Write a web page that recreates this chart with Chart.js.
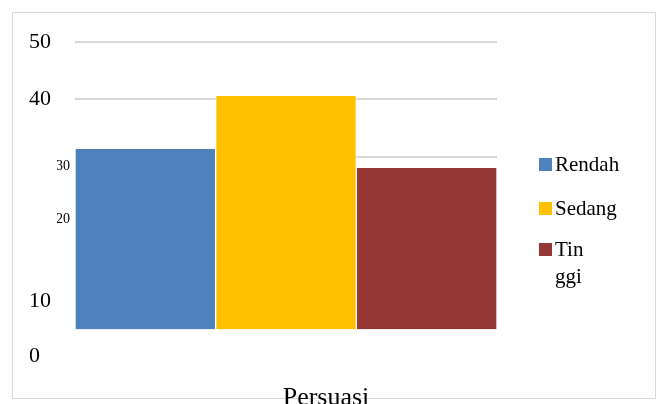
<!DOCTYPE html>
<html>
<head>
<meta charset="utf-8">
<script src="https://cdn.jsdelivr.net/npm/chart.js@4/dist/chart.umd.min.js"></script>
<style>
  html, body { margin: 0; padding: 0; background: #fff; }
  #wrap { width: 659px; height: 404px; }
</style>
</head>
<body>
<div id="wrap"><canvas id="persuasiChart" width="659" height="404"></canvas></div>
<script>
const categories = ['Persuasi'];
const seriesNames = ['Rendah', 'Sedang', 'Tinggi'];
const rendah = [31.5];
const sedang = [40.7];
const tinggi = [28.2];
const tickLabels = ['50', '40', '30', '20', '10', '0'];
const gridValues = [10, 20, 30, 40, 50];

const colors = ['#4f81bd', '#ffc000', '#953735'];
const serif = 'Liberation Serif';

// frame around the whole picture
const framePlugin = {
    id: 'frame',
    beforeDraw(chart) {
        const c = chart.ctx;
        c.save();
        c.fillStyle = '#fff';
        c.fillRect(0, 0, chart.width, chart.height);
        c.strokeStyle = '#d9d9d9';
        c.lineWidth = 1;
        c.strokeRect(12.5, 12.5, 643, 386);
        c.restore();
    }
};

// legend on the right, the last label breaks onto two lines like the original
const sideLegend = {
    id: 'sideLegend',
    afterDraw(chart) {
        const c = chart.ctx;
        const rows = [['Rendah'], ['Sedang'], ['Tin', 'ggi']];
        const rowY = [164, 208, 249];
        c.save();
        c.font = '21px "' + serif + '"';
        c.textBaseline = 'middle';
        chart.data.datasets.forEach((ds, i) => {
            c.fillStyle = ds.backgroundColor;
            c.fillRect(539, rowY[i] - 6, 13, 13);
            c.fillStyle = '#000';
            rows[i].forEach((line, j) => c.fillText(line, 555, rowY[i] + 1 + j * 27));
        });
        c.restore();
    }
};

const chartData = {
    labels: categories,
    datasets: [rendah, sedang, tinggi].map((values, i) => ({
        label: seriesNames[i],
        data: values,
        backgroundColor: colors[i],
        borderColor: '#ffffff',
        borderWidth: 1,
        categoryPercentage: 1,
        barPercentage: 1
    }))
};

// where the (misplaced) tick labels sit in the original picture
const labelAt = [50, 40, 28.3, 19.2, 4.8, -4.7];
const bigIdx = [0, 1, 4, 5];   // large labels, left aligned at the frame side
const smallIdx = [2, 3];       // small labels, tucked next to the plot

const labelAxis = (idx, opts) => ({
    position: 'left',
    min: -5,
    max: 50,
    afterBuildTicks: (scale) => { scale.ticks = idx.map(i => ({ value: labelAt[i] })); },
    grid: { display: false, drawTicks: false },
    border: { display: false },
    ...opts,
    ticks: {
        color: '#000',
        autoSkip: false,
        callback: (value, index) => tickLabels[idx[index]],
        ...opts.ticks
    }
});

const config = {
    type: 'bar',
    data: chartData,
    plugins: [framePlugin, sideLegend],
    options: {
        responsive: false,
        animation: false,
        layout: { padding: { left: 29, right: 162, top: 42, bottom: 0 } },
        plugins: {
            legend: { display: false },
            tooltip: { enabled: false }
        },
        scales: {
            x: {
                grid: { display: false },
                border: { display: false },
                afterFit: (scale) => { scale.height = 46; },
                ticks: {
                    color: '#000',
                    font: { family: serif, size: 26 },
                    padding: 17,
                    labelOffset: 40
                }
            },
            y: {
                min: -5,
                max: 50,
                weight: 1,
                afterBuildTicks: (scale) => { scale.ticks = gridValues.map(v => ({ value: v })); },
                afterFit: (scale) => { scale.width = 0; },
                grid: { color: '#d9d9d9', lineWidth: 2, drawTicks: false },
                border: { display: false },
                ticks: { display: false }
            },
            ys: labelAxis(smallIdx, {
                weight: 2,
                afterFit: (scale) => { scale.width = 18; },
                ticks: { crossAlign: 'near', padding: 5, font: { family: serif, size: 14 } }
            }),
            yl: labelAxis(bigIdx, {
                weight: 3,
                afterFit: (scale) => { scale.width = 28; },
                ticks: { crossAlign: 'far', padding: 2, font: { family: serif, size: 22 } }
            })
        }
    }
};

const performanceChart = new Chart(document.getElementById('persuasiChart').getContext('2d'), config);
</script>
</body>
</html>
